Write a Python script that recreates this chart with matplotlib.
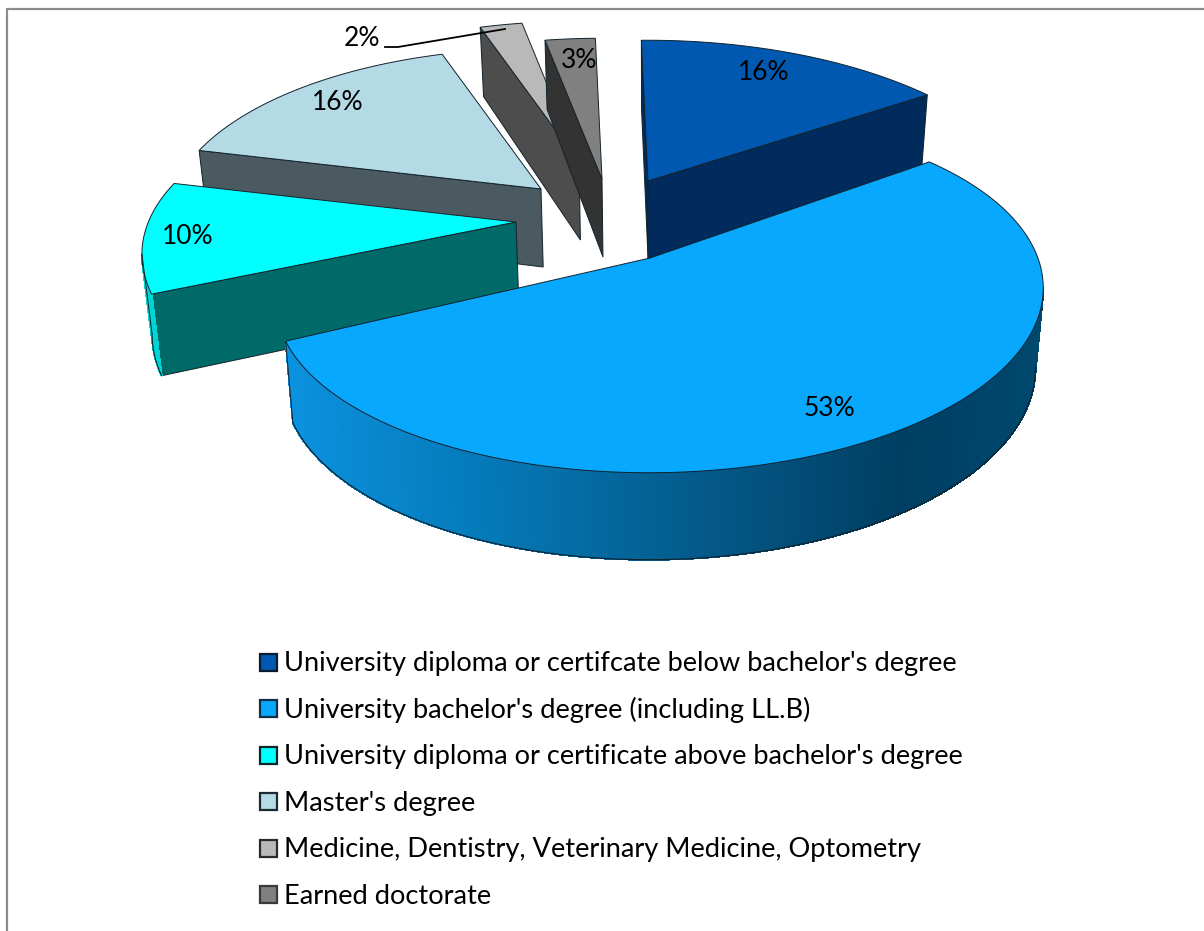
import matplotlib
matplotlib.use('Agg')
import matplotlib.pyplot as plt
import numpy as np
from matplotlib.patches import Polygon, Rectangle

plt.rcParams['font.family'] = ['Lato', 'DejaVu Sans']

categories = ["University diploma or certifcate below bachelor's degree",
              "University bachelor's degree (including LL.B)",
              "University diploma or certificate above bachelor's degree",
              "Master's degree",
              "Medicine, Dentistry, Veterinary Medicine, Optometry",
              "Earned doctorate"]
values = [15.6, 52.9, 10.4, 16.3, 2.2, 2.6]

top_colors = ['#0058b0', '#08a8fe', '#00ffff', '#b4dae6', '#b9b9b9', '#808080']
cut_colors = ['#002b5c', '#003f63', '#006a68', '#4a5a60', '#4d4d4d', '#333333']
arc_colors = ['#002b5c', None, '#00d5d5', '#4a5a60', '#4d4d4d', '#333333']
swatch_edges = ['#0a1a30', '#103048', '#0a2a2a', '#1c2a30', '#2a2a2a', '#3a3a3a']

# where each slice's tip ends up after the explode, in pixels
apex_x = [648, 650, 516, 541, 579, 602]
apex_y = [181, 258, 222, 189, 162, 179]
tilt = [0, 12, 0, 0, 0, 0]
draw_order = [3, 4, 5, 0, 2, 1]

label_x = [764, 829, 188, 338, 362, 579]
label_y = [72, 409, 237, 103, 39, 60]

grad_x = [285, 500, 700, 900, 1040]
grad_r = [11, 5, 4, 0, 0]
grad_g = [146, 119, 90, 63, 72]
grad_b = [223, 181, 138, 99, 110]

R, S, K, M, SKEW = 375, 170, 0.208, -0.02, -8
VANISH_X, SHRINK = 650, 0.02


def project(ang, ax0, ay0, tl):
    # perspective view of a flat disc, angle clockwise from 12 o'clock
    u, v = np.sin(ang), np.cos(ang)
    w = 1 + K * v + M * u
    return ax0 + (R * u + SKEW * v) / w, ay0 - S * v / w - tl * u, 78 - 9 * v


def lower(px):
    # bottom edge of a wall sits a little closer to the middle
    return px + (VANISH_X - px) * SHRINK


fig = plt.figure(figsize=(12.04, 9.31), dpi=100)
ax = fig.add_axes([0, 0, 1, 1])
ax.set_xlim(0, 1204)
ax.set_ylim(931, 0)
ax.axis('off')

edges = np.cumsum([0] + values) / sum(values) * 2 * np.pi
outline = '#12222c'

for i in draw_order:
    t = np.linspace(edges[i], edges[i + 1], max(int(values[i] * 10), 12))
    x, y, d = project(t, apex_x[i], apex_y[i], tilt[i])
    a = np.array([apex_x[i], apex_y[i]])
    c = np.array([x[len(x) // 2], y[len(y) // 2]])

    # flat cut faces, only the ones turned towards the viewer
    for j in [0, -1]:
        b = np.array([x[j], y[j]])
        n = np.array([-(b[1] - a[1]), b[0] - a[0]])
        if n @ (c - a) > 0:
            n = -n
        if n[1] > 0:
            ax.add_patch(Polygon([a, b, (lower(b[0]), b[1] + d[j]), (lower(a[0]), a[1] + 78)],
                                 fc=cut_colors[i], ec=outline, lw=0.7))

    # outer wall, split up so the big slice can carry its gradient
    for j in range(len(t) - 1):
        if x[j + 1] < x[j]:
            if arc_colors[i] is None:
                mid = (x[j] + x[j + 1]) / 2
                col = (np.interp(mid, grad_x, grad_r) / 255,
                       np.interp(mid, grad_x, grad_g) / 255,
                       np.interp(mid, grad_x, grad_b) / 255)
            else:
                col = arc_colors[i]
            ax.add_patch(Polygon([(x[j], y[j]), (x[j + 1], y[j + 1]),
                                  (lower(x[j + 1]), y[j + 1] + d[j + 1]), (lower(x[j]), y[j] + d[j])],
                                 fc=col, ec=col, lw=0.8, antialiased=False))
    front = np.where(np.diff(x) < 0)[0]
    if len(front):
        s = front[0]
        e = front[-1] + 2
        ax.plot(lower(x[s:e]), y[s:e] + d[s:e], color=outline, lw=0.8)
        ax.plot([x[e - 1], lower(x[e - 1])], [y[e - 1], y[e - 1] + d[e - 1]], color=outline, lw=0.7)

    ax.add_patch(Polygon(np.vstack([a, np.column_stack([x, y])]),
                         fc=top_colors[i], ec=outline, lw=0.7))

for i in range(len(values)):
    ax.text(label_x[i], label_y[i], '%d%%' % round(values[i]), fontsize=19,
            ha='center', va='center', color='black')

# leader line of the 2% label
ax.plot([385, 398, 505], [47, 47, 29], color='black', lw=1.3)

for i, name in enumerate(categories):
    yy = 662.5 + 46.4 * i
    ax.add_patch(Rectangle((260, yy - 8.5), 17, 17, fc=top_colors[i], ec=swatch_edges[i], lw=1.6))
    ax.text(284, yy + 1.5, name, fontsize=19.6, ha='left', va='center', color='black')

# chart frame, only left and top show
ax.plot([7, 7, 1204], [931, 9, 9], color='#8c8c8c', lw=1.6)

fig.savefig('out.png', dpi=100)
